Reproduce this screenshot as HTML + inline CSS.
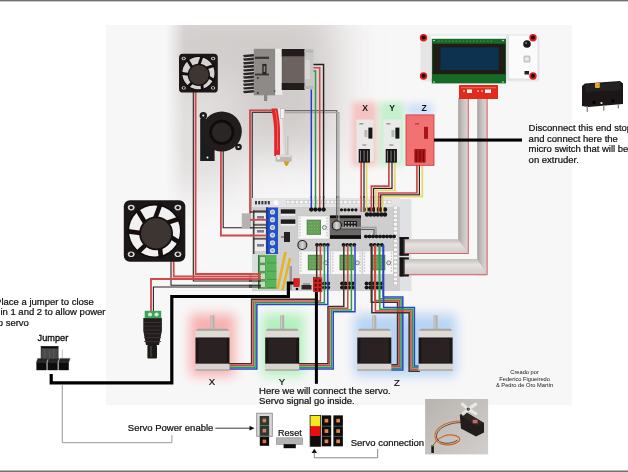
<!DOCTYPE html>
<html><head><meta charset="utf-8">
<style>
html,body{margin:0;padding:0;background:#fff;width:628px;height:472px;overflow:hidden}
svg{display:block;will-change:transform}
text{font-family:"Liberation Sans",sans-serif}
</style></head><body>
<svg width="628" height="472" viewBox="0 0 628 472">
<defs>
  <filter id="soft" x="0" y="0" width="100%" height="100%" filterUnits="userSpaceOnUse"><feGaussianBlur stdDeviation="0.35"/></filter>
  <filter id="blur20" x="-50%" y="-50%" width="200%" height="200%"><feGaussianBlur stdDeviation="20"/></filter>
  <filter id="blur6" x="-50%" y="-50%" width="200%" height="200%"><feGaussianBlur stdDeviation="6"/></filter>
  <filter id="blur3" x="-50%" y="-50%" width="200%" height="200%"><feGaussianBlur stdDeviation="3"/></filter>
  <filter id="blur1" x="-50%" y="-50%" width="200%" height="200%"><feGaussianBlur stdDeviation="0.7"/></filter>
  <linearGradient id="ribV" x1="0" x2="1" y1="0" y2="0">
    <stop offset="0" stop-color="#a8a2a0"/><stop offset="0.55" stop-color="#cec8c6"/><stop offset="1" stop-color="#dad4d2"/>
  </linearGradient>
  <linearGradient id="ribH" x1="0" x2="0" y1="0" y2="1">
    <stop offset="0" stop-color="#c2bcba"/><stop offset="0.35" stop-color="#e6e2e0"/><stop offset="1" stop-color="#d0cac8"/>
  </linearGradient>
  <linearGradient id="servoBg" x1="0" x2="1" y1="0" y2="1">
    <stop offset="0" stop-color="#b8b4b0"/><stop offset="1" stop-color="#d2cecb"/>
  </linearGradient>
  <linearGradient id="motGrad" x1="0" x2="1" y1="0" y2="0">
    <stop offset="0" stop-color="#1a1616"/><stop offset="0.5" stop-color="#332d2b"/><stop offset="1" stop-color="#1a1616"/>
  </linearGradient>
  <linearGradient id="capGrad" x1="0" x2="1" y1="0" y2="0">
    <stop offset="0" stop-color="#9a9896"/><stop offset="0.5" stop-color="#d8d6d4"/><stop offset="1" stop-color="#9a9896"/>
  </linearGradient>
  <clipPath id="panelclip"><rect x="106" y="25" width="466" height="380"/></clipPath>
</defs>

<g filter="url(#soft)">
<rect x="0" y="0" width="628" height="1" fill="#727272" />
<rect x="0" y="1" width="628" height="1" fill="#c8c8c8" />
<rect x="0" y="470" width="628" height="1" fill="#b4b4b4" />
<rect x="0" y="471" width="628" height="1" fill="#727272" />
<rect x="106" y="25" width="466" height="380" fill="#f8f7f7" />
<defs>
<linearGradient id="shmG" gradientUnits="userSpaceOnUse" x1="166" y1="0" x2="184" y2="0"><stop offset="0" stop-color="#000"/><stop offset="1" stop-color="#fff"/></linearGradient>
<mask id="shm" maskUnits="userSpaceOnUse" x="0" y="0" width="628" height="472"><rect x="106" y="25" width="466" height="380" fill="url(#shmG)"/></mask>
<radialGradient id="shR" gradientUnits="userSpaceOnUse" cx="205" cy="25" r="165" gradientTransform="translate(205 25) scale(1 1.15) translate(-205 -25)">
<stop offset="0" stop-color="#cfcbca" stop-opacity="1"/><stop offset="0.4" stop-color="#d2cecd" stop-opacity="0.8"/><stop offset="0.75" stop-color="#dcd8d8" stop-opacity="0.3"/><stop offset="1" stop-color="#e8e4e4" stop-opacity="0"/></radialGradient>
</defs>
<g clip-path="url(#panelclip)"><g mask="url(#shm)"><rect x="152" y="5" width="185" height="150" fill="#d0cccb" filter="url(#blur20)"/><rect x="150" y="80" width="90" height="110" fill="#e2dfdf" filter="url(#blur20)"/></g></g>
<g filter="url(#blur3)">
<rect x="352" y="102" width="24.5" height="64" fill="#f5c3c3" />
<rect x="379.5" y="102" width="24.5" height="64" fill="#c4f0cc" />
<rect x="407" y="103" width="26" height="14" fill="#d0e2f8" />
</g>
<g filter="url(#blur6)">
<rect x="190" y="314" width="45" height="62" fill="#f8b0b0" />
<rect x="262" y="314" width="42" height="62" fill="#b0f0bc" />
<rect x="354" y="314" width="102" height="62" fill="#b8d4f4" />
</g>
<path d="M193.3,90 L193.3,281 L262,281" fill="none" stroke="#262222" stroke-width="1.1" stroke-linejoin="miter" />
<path d="M195.6,90 L195.6,274 L262,274" fill="none" stroke="#d04848" stroke-width="1.8" stroke-linejoin="miter" />
<path d="M171,258 L171,285.3 L262,285.3" fill="none" stroke="#262222" stroke-width="1.1" stroke-linejoin="miter" />
<path d="M173.7,258 L173.7,276.5 L262,276.5" fill="none" stroke="#d04848" stroke-width="1.8" stroke-linejoin="miter" />
<path d="M153.4,312 L153.4,287 L262,287" fill="none" stroke="#262222" stroke-width="1.1" stroke-linejoin="miter" />
<path d="M151,312 L151,279 L262,279" fill="none" stroke="#d04848" stroke-width="1.8" stroke-linejoin="miter" />
<path d="M223.2,150 L223.2,227.8 L268,227.8" fill="none" stroke="#262222" stroke-width="1.1" stroke-linejoin="miter" />
<path d="M220.9,150 L220.9,235.5 L268,235.5" fill="none" stroke="#d04848" stroke-width="1.8" stroke-linejoin="miter" />
<path d="M252.2,112.3 L252.2,212 L268,212" fill="none" stroke="#262222" stroke-width="1.1" stroke-linejoin="miter" />
<path d="M250,110.3 L250,219.8 L268,219.8" fill="none" stroke="#d04848" stroke-width="1.8" stroke-linejoin="miter" />
<path d="M249.2,110.3 L273,110.3" fill="none" stroke="#d04848" stroke-width="1.8" stroke-linejoin="miter" />
<path d="M252.2,112.3 L273,112.3" fill="none" stroke="#262222" stroke-width="1.1" stroke-linejoin="miter" />
<rect x="241.8" y="213.3" width="9.5" height="15.2" fill="#b4b2b2" />
<path d="M283,110.6 L336.8,110.6 L336.8,232" fill="none" stroke="#6e6a6a" stroke-width="1.2" stroke-linejoin="miter" />
<path d="M283,112.6 L338.9,112.6 L338.9,232" fill="none" stroke="#aaa6a4" stroke-width="1.3" stroke-linejoin="miter" />
<path d="M306,64.5 L323.6,64.5 L323.6,210" fill="none" stroke="#262222" stroke-width="1.4" stroke-linejoin="miter" />
<path d="M306,67.8 L319.7,67.8 L319.7,210" fill="none" stroke="#d04848" stroke-width="1.5" stroke-linejoin="miter" />
<path d="M306,71 L315.5,71 L315.5,210" fill="none" stroke="#2f9a40" stroke-width="1.5" stroke-linejoin="miter" />
<path d="M306,73.5 L311.3,73.5 L311.3,210" fill="none" stroke="#2a3ac8" stroke-width="1.5" stroke-linejoin="miter" />
<path d="M361.2,160 L361.2,209" fill="none" stroke="#d04848" stroke-width="1.7" stroke-linejoin="miter" />
<path d="M364,160 L364,209" fill="none" stroke="#262222" stroke-width="1.2" stroke-linejoin="miter" />
<path d="M366.6,160 L366.6,209" fill="none" stroke="#e8d870" stroke-width="1.8" stroke-linejoin="miter" />
<path d="M388.9,160 L388.9,186.2 L371.4,186.2 L371.4,209" fill="none" stroke="#d04848" stroke-width="1.7" stroke-linejoin="miter" />
<path d="M392,160 L392,188.4 L373.6,188.4 L373.6,209" fill="none" stroke="#262222" stroke-width="1.2" stroke-linejoin="miter" />
<path d="M394.8,160 L394.8,190.4 L375.9,190.4 L375.9,209" fill="none" stroke="#e8d870" stroke-width="1.8" stroke-linejoin="miter" />
<path d="M416.9,160 L416.9,193 L378.7,193 L378.7,209" fill="none" stroke="#d04848" stroke-width="1.7" stroke-linejoin="miter" />
<path d="M419.4,160 L419.4,194.8 L380.7,194.8 L380.7,209" fill="none" stroke="#262222" stroke-width="1.2" stroke-linejoin="miter" />
<path d="M422.3,160 L422.3,196.6 L382.6,196.6 L382.6,209" fill="none" stroke="#e8d870" stroke-width="1.8" stroke-linejoin="miter" />
<rect x="179" y="53.8" width="38.8" height="38.8" rx="3.88" fill="#1c1818"/>
<ellipse cx="183.7" cy="58.5" rx="2.1" ry="1.7" fill="#d8d8d8"/><circle cx="183.7" cy="58.5" r="1.1" fill="#1c1818"/>
<ellipse cx="213.1" cy="58.5" rx="2.1" ry="1.7" fill="#d8d8d8"/><circle cx="213.1" cy="58.5" r="1.1" fill="#1c1818"/>
<ellipse cx="183.7" cy="87.9" rx="2.1" ry="1.7" fill="#d8d8d8"/><circle cx="183.7" cy="87.9" r="1.1" fill="#1c1818"/>
<ellipse cx="213.1" cy="87.9" rx="2.1" ry="1.7" fill="#d8d8d8"/><circle cx="213.1" cy="87.9" r="1.1" fill="#1c1818"/>
<circle cx="198.4" cy="73.19999999999999" r="17.1" fill="#0e0c0c"/>
<circle cx="198.4" cy="73.19999999999999" r="16.1" fill="#d6d2d2"/>
<line x1="205.9" y1="75.2" x2="214.5" y2="80.8" stroke="#141010" stroke-width="2.9"/>
<line x1="201.5" y1="80.3" x2="202.5" y2="90.6" stroke="#141010" stroke-width="2.9"/>
<line x1="194.8" y1="80.1" x2="187.4" y2="87.2" stroke="#141010" stroke-width="2.9"/>
<line x1="190.8" y1="74.6" x2="180.6" y2="73.3" stroke="#141010" stroke-width="2.9"/>
<line x1="192.5" y1="68.1" x2="187.2" y2="59.3" stroke="#141010" stroke-width="2.9"/>
<line x1="198.7" y1="65.4" x2="202.2" y2="55.8" stroke="#141010" stroke-width="2.9"/>
<line x1="204.6" y1="68.6" x2="214.4" y2="65.3" stroke="#141010" stroke-width="2.9"/>
<circle cx="198.8" cy="74.8" r="10.5" fill="#3c3432" stroke="#141010" stroke-width="1.2"/>
<rect x="123.8" y="200.2" width="61.5" height="61.5" rx="6.15" fill="#1c1818"/>
<ellipse cx="131.2" cy="207.6" rx="3.4" ry="2.8" fill="#d8d8d8"/><circle cx="131.2" cy="207.6" r="1.7" fill="#1c1818"/>
<ellipse cx="177.9" cy="207.6" rx="3.4" ry="2.8" fill="#d8d8d8"/><circle cx="177.9" cy="207.6" r="1.7" fill="#1c1818"/>
<ellipse cx="131.2" cy="254.3" rx="3.4" ry="2.8" fill="#d8d8d8"/><circle cx="131.2" cy="254.3" r="1.7" fill="#1c1818"/>
<ellipse cx="177.9" cy="254.3" rx="3.4" ry="2.8" fill="#d8d8d8"/><circle cx="177.9" cy="254.3" r="1.7" fill="#1c1818"/>
<circle cx="154.55" cy="230.95" r="27.1" fill="#0e0c0c"/>
<circle cx="154.55" cy="230.95" r="25.5" fill="#f2f0f0"/>
<line x1="166.4" y1="234.1" x2="180.1" y2="243.0" stroke="#141010" stroke-width="4.6"/>
<line x1="159.5" y1="242.2" x2="161.0" y2="258.5" stroke="#141010" stroke-width="4.6"/>
<line x1="148.8" y1="241.8" x2="137.1" y2="253.2" stroke="#141010" stroke-width="4.6"/>
<line x1="142.5" y1="233.2" x2="126.3" y2="231.1" stroke="#141010" stroke-width="4.6"/>
<line x1="145.2" y1="222.9" x2="136.8" y2="209.0" stroke="#141010" stroke-width="4.6"/>
<line x1="155.0" y1="218.7" x2="160.7" y2="203.3" stroke="#141010" stroke-width="4.6"/>
<line x1="164.4" y1="223.6" x2="180.0" y2="218.5" stroke="#141010" stroke-width="4.6"/>
<circle cx="156.1" cy="233.4" r="16.0" fill="#3c3432" stroke="#141010" stroke-width="1.8"/>
<circle cx="203.3" cy="115.8" r="3.7" fill="#1e1a1a"/><circle cx="203.3" cy="115.6" r="1.1" fill="#e4e4e4"/>
<circle cx="238.5" cy="147" r="3.3" fill="#1e1a1a"/><circle cx="238.5" cy="147" r="1.1" fill="#e4e4e4"/>
<path d="M200.2,119 L214.6,119 L214.6,161 L200.2,161 Z" fill="#1f1a1a"/>
<circle cx="221.8" cy="131.5" r="20" fill="#231d1d"/>
<circle cx="221.8" cy="132.3" r="11.2" fill="#2c2525" stroke="#0e0b0b" stroke-width="2.6"/>
<circle cx="207.5" cy="157.5" r="1" fill="#fff"/>
<path d="M243,55.0 L254,54.0 L254,56.6 L244,57.2 Z" fill="#2a2626"/>
<path d="M243,58.6 L254,57.6 L254,60.2 L244,60.8 Z" fill="#2a2626"/>
<path d="M243,62.2 L254,61.2 L254,63.8 L244,64.4 Z" fill="#2a2626"/>
<path d="M243,65.8 L254,64.8 L254,67.4 L244,68.0 Z" fill="#2a2626"/>
<path d="M243,69.4 L254,68.4 L254,71.0 L244,71.6 Z" fill="#2a2626"/>
<path d="M243,73.0 L254,72.0 L254,74.6 L244,75.2 Z" fill="#2a2626"/>
<path d="M243,76.6 L254,75.6 L254,78.2 L244,78.8 Z" fill="#2a2626"/>
<path d="M243,80.2 L254,79.2 L254,81.8 L244,82.4 Z" fill="#2a2626"/>
<path d="M243,83.8 L254,82.8 L254,85.4 L244,86.0 Z" fill="#2a2626"/>
<path d="M243,87.4 L254,86.4 L254,89.0 L244,89.6 Z" fill="#2a2626"/>
<path d="M243,91.0 L254,90.0 L254,92.6 L244,93.2 Z" fill="#2a2626"/>
<rect x="253.8" y="48.8" width="21.5" height="46.5" fill="#8e8a88" />
<rect x="255" y="56.7" width="14" height="2.2" fill="#3a3636" />
<rect x="255" y="73.6" width="14" height="1.8" fill="#3a3636" />
<rect x="262.3" y="63.9" width="4.2" height="10.3" fill="#2a2626" />
<rect x="263.6" y="66" width="1.6" height="6" fill="#8a8684" />
<circle cx="257.8" cy="78" r="1" fill="#333"/><circle cx="257.8" cy="93" r="1" fill="#333"/><circle cx="275" cy="91" r="1.2" fill="#555"/>
<rect x="275.3" y="48.8" width="7" height="46" fill="#ecebea" />
<rect x="281.8" y="49" width="23" height="41" fill="#5e5652" />
<rect x="281.8" y="49" width="23" height="7.5" fill="#231c1a" />
<rect x="281.8" y="83" width="23" height="7" fill="#231c1a" />
<rect x="282.5" y="56.5" width="21.5" height="26.5" fill="#6c6460" />
<rect x="304.5" y="49.5" width="9" height="40" fill="#c9c7c5" />
<rect x="304.5" y="49.5" width="9" height="3" fill="#b8b6b4" />
<rect x="304.5" y="86" width="9" height="3" fill="#b8b6b4" />
<rect x="305" y="60" width="5" height="19" fill="#d8d6d4" />
<rect x="264" y="95" width="3.2" height="6" fill="#8a8684" />
<path d="M277.5,108.5 L280.8,108.5 C282.3,118 282.8,124 282.8,132 L282.8,155 L280,155 L280,132 C280,124 279,118 277.5,108.5Z" fill="#eee6e6"/>
<path d="M271.5,108.5 L277.5,108.5 C279,118 280,124 280,132 L280,156 L274.2,156 L274.2,132 C274.2,124 273,118 271.5,108.5 Z" fill="#e3262a"/>
<path d="M275.5,110 C277,118 277.6,124 277.6,132 L277.6,150" fill="none" stroke="#f26a6a" stroke-width="0.9"/>
<rect x="280.6" y="108.5" width="4" height="10" fill="#f2f0ee" stroke="#aaa" stroke-width="0.5"/>
<rect x="285" y="136" width="3.6" height="20" fill="#c4c0be" />
<rect x="285.6" y="136" width="1.2" height="20" fill="#dedad8" />
<rect x="275.5" y="154.8" width="16.2" height="7" fill="#bcb8b6" rx="1.5"/>
<rect x="276" y="155" width="15" height="2" fill="#dcdad8" />
<circle cx="278.5" cy="158" r="1.5" fill="#f0f0f0"/>
<path d="M283.5,161.3 L289.5,161.3 L288,165 L286.5,166.2 L285,165 Z" fill="#d6a21c"/>
<rect x="398" y="199" width="13.5" height="92" fill="#dfe1e4" rx="1"/>
<rect x="252" y="198" width="148" height="93" fill="#cecece" />
<rect x="252" y="198" width="148" height="9" fill="#e4e4e4" />
<rect x="286.5" y="200.6" width="3.4" height="3.2" fill="#f6f6f6" stroke="#b8b8b8" stroke-width="0.4"/>
<rect x="290.9" y="200.6" width="3.4" height="3.2" fill="#f6f6f6" stroke="#b8b8b8" stroke-width="0.4"/>
<rect x="295.3" y="200.6" width="3.4" height="3.2" fill="#f6f6f6" stroke="#b8b8b8" stroke-width="0.4"/>
<rect x="299.7" y="200.6" width="3.4" height="3.2" fill="#f6f6f6" stroke="#b8b8b8" stroke-width="0.4"/>
<rect x="304.1" y="200.6" width="3.4" height="3.2" fill="#f6f6f6" stroke="#b8b8b8" stroke-width="0.4"/>
<rect x="308.5" y="200.6" width="3.4" height="3.2" fill="#f6f6f6" stroke="#b8b8b8" stroke-width="0.4"/>
<rect x="312.9" y="200.6" width="3.4" height="3.2" fill="#f6f6f6" stroke="#b8b8b8" stroke-width="0.4"/>
<rect x="317.3" y="200.6" width="3.4" height="3.2" fill="#f6f6f6" stroke="#b8b8b8" stroke-width="0.4"/>
<rect x="321.7" y="200.6" width="3.4" height="3.2" fill="#f6f6f6" stroke="#b8b8b8" stroke-width="0.4"/>
<rect x="326.1" y="200.6" width="3.4" height="3.2" fill="#f6f6f6" stroke="#b8b8b8" stroke-width="0.4"/>
<rect x="330.5" y="200.6" width="3.4" height="3.2" fill="#f6f6f6" stroke="#b8b8b8" stroke-width="0.4"/>
<rect x="334.9" y="200.6" width="3.4" height="3.2" fill="#f6f6f6" stroke="#b8b8b8" stroke-width="0.4"/>
<rect x="339.3" y="200.6" width="3.4" height="3.2" fill="#f6f6f6" stroke="#b8b8b8" stroke-width="0.4"/>
<rect x="343.7" y="200.6" width="3.4" height="3.2" fill="#f6f6f6" stroke="#b8b8b8" stroke-width="0.4"/>
<rect x="348.1" y="200.6" width="3.4" height="3.2" fill="#f6f6f6" stroke="#b8b8b8" stroke-width="0.4"/>
<rect x="352.5" y="200.6" width="3.4" height="3.2" fill="#f6f6f6" stroke="#b8b8b8" stroke-width="0.4"/>
<rect x="356.9" y="200.6" width="3.4" height="3.2" fill="#f6f6f6" stroke="#b8b8b8" stroke-width="0.4"/>
<rect x="361.3" y="200.6" width="3.4" height="3.2" fill="#f6f6f6" stroke="#b8b8b8" stroke-width="0.4"/>
<rect x="365.7" y="200.6" width="3.4" height="3.2" fill="#f6f6f6" stroke="#b8b8b8" stroke-width="0.4"/>
<rect x="370.1" y="200.6" width="3.4" height="3.2" fill="#f6f6f6" stroke="#b8b8b8" stroke-width="0.4"/>
<rect x="374.5" y="200.6" width="3.4" height="3.2" fill="#f6f6f6" stroke="#b8b8b8" stroke-width="0.4"/>
<rect x="378.9" y="200.6" width="3.4" height="3.2" fill="#f6f6f6" stroke="#b8b8b8" stroke-width="0.4"/>
<rect x="383.3" y="200.6" width="3.4" height="3.2" fill="#f6f6f6" stroke="#b8b8b8" stroke-width="0.4"/>
<rect x="387.7" y="200.6" width="3.4" height="3.2" fill="#f6f6f6" stroke="#b8b8b8" stroke-width="0.4"/>
<rect x="393.8" y="206.0" width="3.4" height="3.2" fill="#f6f6f6" stroke="#b8b8b8" stroke-width="0.4"/>
<rect x="393.8" y="210.2" width="3.4" height="3.2" fill="#f6f6f6" stroke="#b8b8b8" stroke-width="0.4"/>
<rect x="393.8" y="214.4" width="3.4" height="3.2" fill="#f6f6f6" stroke="#b8b8b8" stroke-width="0.4"/>
<rect x="393.8" y="218.6" width="3.4" height="3.2" fill="#f6f6f6" stroke="#b8b8b8" stroke-width="0.4"/>
<rect x="393.8" y="222.8" width="3.4" height="3.2" fill="#f6f6f6" stroke="#b8b8b8" stroke-width="0.4"/>
<rect x="393.8" y="227.0" width="3.4" height="3.2" fill="#f6f6f6" stroke="#b8b8b8" stroke-width="0.4"/>
<rect x="393.8" y="231.2" width="3.4" height="3.2" fill="#f6f6f6" stroke="#b8b8b8" stroke-width="0.4"/>
<rect x="393.8" y="235.4" width="3.4" height="3.2" fill="#f6f6f6" stroke="#b8b8b8" stroke-width="0.4"/>
<rect x="393.8" y="239.6" width="3.4" height="3.2" fill="#f6f6f6" stroke="#b8b8b8" stroke-width="0.4"/>
<rect x="393.8" y="243.8" width="3.4" height="3.2" fill="#f6f6f6" stroke="#b8b8b8" stroke-width="0.4"/>
<rect x="393.8" y="248.0" width="3.4" height="3.2" fill="#f6f6f6" stroke="#b8b8b8" stroke-width="0.4"/>
<rect x="393.8" y="252.2" width="3.4" height="3.2" fill="#f6f6f6" stroke="#b8b8b8" stroke-width="0.4"/>
<rect x="393.8" y="256.4" width="3.4" height="3.2" fill="#f6f6f6" stroke="#b8b8b8" stroke-width="0.4"/>
<rect x="393.8" y="260.6" width="3.4" height="3.2" fill="#f6f6f6" stroke="#b8b8b8" stroke-width="0.4"/>
<rect x="393.8" y="264.8" width="3.4" height="3.2" fill="#f6f6f6" stroke="#b8b8b8" stroke-width="0.4"/>
<rect x="393.8" y="269.0" width="3.4" height="3.2" fill="#f6f6f6" stroke="#b8b8b8" stroke-width="0.4"/>
<rect x="393.8" y="273.2" width="3.4" height="3.2" fill="#f6f6f6" stroke="#b8b8b8" stroke-width="0.4"/>
<rect x="393.8" y="277.4" width="3.4" height="3.2" fill="#f6f6f6" stroke="#b8b8b8" stroke-width="0.4"/>
<rect x="393.8" y="281.6" width="3.4" height="3.2" fill="#f6f6f6" stroke="#b8b8b8" stroke-width="0.4"/>
<rect x="254.5" y="212" width="11" height="11" fill="#ececec" />
<rect x="254.5" y="226" width="11" height="11" fill="#ececec" />
<rect x="254.5" y="240" width="11" height="11" fill="#ececec" />
<rect x="253.2" y="210.5" width="1.2" height="44" fill="#2a2626" />
<rect x="253.2" y="210.5" width="13" height="1.1" fill="#2a2626" />
<rect x="253.2" y="224.4" width="13" height="1.1" fill="#2a2626" />
<rect x="253.2" y="238.3" width="13" height="1.1" fill="#2a2626" />
<rect x="255.0" y="201" width="2" height="3.4" fill="#3a3a3a" />
<rect x="258.2" y="201" width="2" height="3.4" fill="#3a3a3a" />
<rect x="261.4" y="201" width="2" height="3.4" fill="#3a3a3a" />
<rect x="264.6" y="201" width="2" height="3.4" fill="#3a3a3a" />
<rect x="267.8" y="201" width="2" height="3.4" fill="#3a3a3a" />
<rect x="257" y="216" width="7" height="2.6" fill="#7a7a8a" />
<rect x="257" y="230" width="7" height="2.6" fill="#7a7a8a" />
<rect x="257" y="244" width="7" height="2.6" fill="#7a7a8a" />
<circle cx="276" cy="202.5" r="2.6" fill="#fafafa"/>
<rect x="266" y="207.5" width="12" height="46.5" fill="#2451c8" />
<rect x="266" y="207.5" width="2" height="46.5" fill="#1a3ea0" />
<circle cx="272.5" cy="212.0" r="2.6" fill="#d8dce8"/><circle cx="272.5" cy="212.0" r="1.3" fill="#9aa4bc"/>
<circle cx="272.5" cy="219.7" r="2.6" fill="#d8dce8"/><circle cx="272.5" cy="219.7" r="1.3" fill="#9aa4bc"/>
<circle cx="272.5" cy="227.4" r="2.6" fill="#d8dce8"/><circle cx="272.5" cy="227.4" r="1.3" fill="#9aa4bc"/>
<circle cx="272.5" cy="235.1" r="2.6" fill="#d8dce8"/><circle cx="272.5" cy="235.1" r="1.3" fill="#9aa4bc"/>
<circle cx="272.5" cy="242.8" r="2.6" fill="#d8dce8"/><circle cx="272.5" cy="242.8" r="1.3" fill="#9aa4bc"/>
<circle cx="272.5" cy="250.5" r="2.6" fill="#d8dce8"/><circle cx="272.5" cy="250.5" r="1.3" fill="#9aa4bc"/>
<rect x="280.8" y="209.3" width="14.5" height="4.5" fill="#1e1c1c" />
<rect x="280.8" y="213.8" width="14.5" height="1.8" fill="#f0f0f0" />
<rect x="280.8" y="219.4" width="14.5" height="4.5" fill="#1e1c1c" />
<rect x="280.8" y="223.9" width="14.5" height="1.8" fill="#f0f0f0" />
<rect x="284" y="232" width="6" height="10" fill="#222" />
<rect x="281" y="236" width="3" height="2" fill="#888" />
<rect x="252" y="254" width="6.5" height="36" fill="#dadedb" />
<rect x="258" y="255" width="18.5" height="34" fill="#5ab45a" />
<rect x="258" y="255" width="1.2" height="34" fill="#2e6e32" />
<rect x="259.8" y="256.6" width="5.8" height="6.4" fill="#c4dcc0" stroke="#3c7e3e" stroke-width="0.6"/>
<rect x="267" y="262.6" width="9.5" height="0.7" fill="#3e8e42" />
<rect x="259.8" y="264.8" width="5.8" height="6.4" fill="#c4dcc0" stroke="#3c7e3e" stroke-width="0.6"/>
<rect x="267" y="270.8" width="9.5" height="0.7" fill="#3e8e42" />
<rect x="259.8" y="273.0" width="5.8" height="6.4" fill="#c4dcc0" stroke="#3c7e3e" stroke-width="0.6"/>
<rect x="267" y="279.0" width="9.5" height="0.7" fill="#3e8e42" />
<rect x="259.8" y="281.20000000000005" width="5.8" height="6.4" fill="#c4dcc0" stroke="#3c7e3e" stroke-width="0.6"/>
<rect x="267" y="287.20000000000005" width="9.5" height="0.7" fill="#3e8e42" />
<path d="M277.5,289 L285.5,252" fill="none" stroke="#e6b41e" stroke-width="2.6" stroke-linejoin="miter" />
<path d="M282.5,290.5 L290,258" fill="none" stroke="#e6b41e" stroke-width="2.4" stroke-linejoin="miter" />
<rect x="289.5" y="266" width="2.5" height="24" fill="#9a9a9a" />
<rect x="298" y="216" width="31" height="23" fill="#f7f7f7" stroke="#bdbdbd" stroke-width="0.5"/>
<rect x="306.68" y="219.68" width="14.26" height="15.180000000000001" fill="#4f8a44" />
<rect x="307.61" y="220.6" width="12.4" height="13.34" fill="#66a058" />
<rect x="299.2" y="217.5" width="1.4" height="1.6" fill="#c8c8c8" />
<rect x="326.4" y="217.5" width="1.4" height="1.6" fill="#c8c8c8" />
<rect x="299.2" y="220.4" width="1.4" height="1.6" fill="#c8c8c8" />
<rect x="326.4" y="220.4" width="1.4" height="1.6" fill="#c8c8c8" />
<rect x="299.2" y="223.2" width="1.4" height="1.6" fill="#c8c8c8" />
<rect x="326.4" y="223.2" width="1.4" height="1.6" fill="#c8c8c8" />
<rect x="299.2" y="226.1" width="1.4" height="1.6" fill="#c8c8c8" />
<rect x="326.4" y="226.1" width="1.4" height="1.6" fill="#c8c8c8" />
<rect x="299.2" y="228.9" width="1.4" height="1.6" fill="#c8c8c8" />
<rect x="326.4" y="228.9" width="1.4" height="1.6" fill="#c8c8c8" />
<rect x="299.2" y="231.8" width="1.4" height="1.6" fill="#c8c8c8" />
<rect x="326.4" y="231.8" width="1.4" height="1.6" fill="#c8c8c8" />
<rect x="299.2" y="234.6" width="1.4" height="1.6" fill="#c8c8c8" />
<rect x="326.4" y="234.6" width="1.4" height="1.6" fill="#c8c8c8" />
<rect x="308.5" y="221.8" width="1" height="1" fill="#8cc07c" />
<rect x="308.5" y="225.0" width="1" height="1" fill="#8cc07c" />
<rect x="308.5" y="228.2" width="1" height="1" fill="#8cc07c" />
<rect x="308.5" y="231.4" width="1" height="1" fill="#8cc07c" />
<rect x="311.3" y="221.8" width="1" height="1" fill="#8cc07c" />
<rect x="311.3" y="225.0" width="1" height="1" fill="#8cc07c" />
<rect x="311.3" y="228.2" width="1" height="1" fill="#8cc07c" />
<rect x="311.3" y="231.4" width="1" height="1" fill="#8cc07c" />
<rect x="314.1" y="221.8" width="1" height="1" fill="#8cc07c" />
<rect x="314.1" y="225.0" width="1" height="1" fill="#8cc07c" />
<rect x="314.1" y="228.2" width="1" height="1" fill="#8cc07c" />
<rect x="314.1" y="231.4" width="1" height="1" fill="#8cc07c" />
<rect x="316.9" y="221.8" width="1" height="1" fill="#8cc07c" />
<rect x="316.9" y="225.0" width="1" height="1" fill="#8cc07c" />
<rect x="316.9" y="228.2" width="1" height="1" fill="#8cc07c" />
<rect x="316.9" y="231.4" width="1" height="1" fill="#8cc07c" />
<circle cx="324.4" cy="227.5" r="2" fill="#e8e8e8" stroke="#555" stroke-width="0.7"/>
<rect x="299" y="251" width="31.5" height="23.5" fill="#f7f7f7" stroke="#bdbdbd" stroke-width="0.5"/>
<rect x="307.82" y="254.76" width="14.49" height="15.510000000000002" fill="#4f8a44" />
<rect x="308.765" y="255.7" width="12.600000000000001" height="13.629999999999999" fill="#66a058" />
<rect x="300.2" y="252.5" width="1.4" height="1.6" fill="#c8c8c8" />
<rect x="327.9" y="252.5" width="1.4" height="1.6" fill="#c8c8c8" />
<rect x="300.2" y="255.4" width="1.4" height="1.6" fill="#c8c8c8" />
<rect x="327.9" y="255.4" width="1.4" height="1.6" fill="#c8c8c8" />
<rect x="300.2" y="258.4" width="1.4" height="1.6" fill="#c8c8c8" />
<rect x="327.9" y="258.4" width="1.4" height="1.6" fill="#c8c8c8" />
<rect x="300.2" y="261.3" width="1.4" height="1.6" fill="#c8c8c8" />
<rect x="327.9" y="261.3" width="1.4" height="1.6" fill="#c8c8c8" />
<rect x="300.2" y="264.2" width="1.4" height="1.6" fill="#c8c8c8" />
<rect x="327.9" y="264.2" width="1.4" height="1.6" fill="#c8c8c8" />
<rect x="300.2" y="267.1" width="1.4" height="1.6" fill="#c8c8c8" />
<rect x="327.9" y="267.1" width="1.4" height="1.6" fill="#c8c8c8" />
<rect x="300.2" y="270.1" width="1.4" height="1.6" fill="#c8c8c8" />
<rect x="327.9" y="270.1" width="1.4" height="1.6" fill="#c8c8c8" />
<rect x="309.7" y="256.9" width="1" height="1" fill="#8cc07c" />
<rect x="309.7" y="260.2" width="1" height="1" fill="#8cc07c" />
<rect x="309.7" y="263.5" width="1" height="1" fill="#8cc07c" />
<rect x="309.7" y="266.7" width="1" height="1" fill="#8cc07c" />
<rect x="312.5" y="256.9" width="1" height="1" fill="#8cc07c" />
<rect x="312.5" y="260.2" width="1" height="1" fill="#8cc07c" />
<rect x="312.5" y="263.5" width="1" height="1" fill="#8cc07c" />
<rect x="312.5" y="266.7" width="1" height="1" fill="#8cc07c" />
<rect x="315.4" y="256.9" width="1" height="1" fill="#8cc07c" />
<rect x="315.4" y="260.2" width="1" height="1" fill="#8cc07c" />
<rect x="315.4" y="263.5" width="1" height="1" fill="#8cc07c" />
<rect x="315.4" y="266.7" width="1" height="1" fill="#8cc07c" />
<rect x="318.2" y="256.9" width="1" height="1" fill="#8cc07c" />
<rect x="318.2" y="260.2" width="1" height="1" fill="#8cc07c" />
<rect x="318.2" y="263.5" width="1" height="1" fill="#8cc07c" />
<rect x="318.2" y="266.7" width="1" height="1" fill="#8cc07c" />
<circle cx="325.8" cy="262.8" r="2" fill="#e8e8e8" stroke="#555" stroke-width="0.7"/>
<rect x="330.8" y="251" width="31.2" height="23.5" fill="#f7f7f7" stroke="#bdbdbd" stroke-width="0.5"/>
<rect x="339.536" y="254.76" width="14.352" height="15.510000000000002" fill="#4f8a44" />
<rect x="340.47200000000004" y="255.7" width="12.48" height="13.629999999999999" fill="#66a058" />
<rect x="332.0" y="252.5" width="1.4" height="1.6" fill="#c8c8c8" />
<rect x="359.4" y="252.5" width="1.4" height="1.6" fill="#c8c8c8" />
<rect x="332.0" y="255.4" width="1.4" height="1.6" fill="#c8c8c8" />
<rect x="359.4" y="255.4" width="1.4" height="1.6" fill="#c8c8c8" />
<rect x="332.0" y="258.4" width="1.4" height="1.6" fill="#c8c8c8" />
<rect x="359.4" y="258.4" width="1.4" height="1.6" fill="#c8c8c8" />
<rect x="332.0" y="261.3" width="1.4" height="1.6" fill="#c8c8c8" />
<rect x="359.4" y="261.3" width="1.4" height="1.6" fill="#c8c8c8" />
<rect x="332.0" y="264.2" width="1.4" height="1.6" fill="#c8c8c8" />
<rect x="359.4" y="264.2" width="1.4" height="1.6" fill="#c8c8c8" />
<rect x="332.0" y="267.1" width="1.4" height="1.6" fill="#c8c8c8" />
<rect x="359.4" y="267.1" width="1.4" height="1.6" fill="#c8c8c8" />
<rect x="332.0" y="270.1" width="1.4" height="1.6" fill="#c8c8c8" />
<rect x="359.4" y="270.1" width="1.4" height="1.6" fill="#c8c8c8" />
<rect x="341.4" y="256.9" width="1" height="1" fill="#8cc07c" />
<rect x="341.4" y="260.2" width="1" height="1" fill="#8cc07c" />
<rect x="341.4" y="263.5" width="1" height="1" fill="#8cc07c" />
<rect x="341.4" y="266.7" width="1" height="1" fill="#8cc07c" />
<rect x="344.2" y="256.9" width="1" height="1" fill="#8cc07c" />
<rect x="344.2" y="260.2" width="1" height="1" fill="#8cc07c" />
<rect x="344.2" y="263.5" width="1" height="1" fill="#8cc07c" />
<rect x="344.2" y="266.7" width="1" height="1" fill="#8cc07c" />
<rect x="347.0" y="256.9" width="1" height="1" fill="#8cc07c" />
<rect x="347.0" y="260.2" width="1" height="1" fill="#8cc07c" />
<rect x="347.0" y="263.5" width="1" height="1" fill="#8cc07c" />
<rect x="347.0" y="266.7" width="1" height="1" fill="#8cc07c" />
<rect x="349.8" y="256.9" width="1" height="1" fill="#8cc07c" />
<rect x="349.8" y="260.2" width="1" height="1" fill="#8cc07c" />
<rect x="349.8" y="263.5" width="1" height="1" fill="#8cc07c" />
<rect x="349.8" y="266.7" width="1" height="1" fill="#8cc07c" />
<circle cx="357.3" cy="262.8" r="2" fill="#e8e8e8" stroke="#555" stroke-width="0.7"/>
<rect x="362.5" y="251" width="30.8" height="23.5" fill="#f7f7f7" stroke="#bdbdbd" stroke-width="0.5"/>
<rect x="371.124" y="254.76" width="14.168000000000001" height="15.510000000000002" fill="#4f8a44" />
<rect x="372.048" y="255.7" width="12.32" height="13.629999999999999" fill="#66a058" />
<rect x="363.7" y="252.5" width="1.4" height="1.6" fill="#c8c8c8" />
<rect x="390.7" y="252.5" width="1.4" height="1.6" fill="#c8c8c8" />
<rect x="363.7" y="255.4" width="1.4" height="1.6" fill="#c8c8c8" />
<rect x="390.7" y="255.4" width="1.4" height="1.6" fill="#c8c8c8" />
<rect x="363.7" y="258.4" width="1.4" height="1.6" fill="#c8c8c8" />
<rect x="390.7" y="258.4" width="1.4" height="1.6" fill="#c8c8c8" />
<rect x="363.7" y="261.3" width="1.4" height="1.6" fill="#c8c8c8" />
<rect x="390.7" y="261.3" width="1.4" height="1.6" fill="#c8c8c8" />
<rect x="363.7" y="264.2" width="1.4" height="1.6" fill="#c8c8c8" />
<rect x="390.7" y="264.2" width="1.4" height="1.6" fill="#c8c8c8" />
<rect x="363.7" y="267.1" width="1.4" height="1.6" fill="#c8c8c8" />
<rect x="390.7" y="267.1" width="1.4" height="1.6" fill="#c8c8c8" />
<rect x="363.7" y="270.1" width="1.4" height="1.6" fill="#c8c8c8" />
<rect x="390.7" y="270.1" width="1.4" height="1.6" fill="#c8c8c8" />
<rect x="373.0" y="256.9" width="1" height="1" fill="#8cc07c" />
<rect x="373.0" y="260.2" width="1" height="1" fill="#8cc07c" />
<rect x="373.0" y="263.5" width="1" height="1" fill="#8cc07c" />
<rect x="373.0" y="266.7" width="1" height="1" fill="#8cc07c" />
<rect x="375.7" y="256.9" width="1" height="1" fill="#8cc07c" />
<rect x="375.7" y="260.2" width="1" height="1" fill="#8cc07c" />
<rect x="375.7" y="263.5" width="1" height="1" fill="#8cc07c" />
<rect x="375.7" y="266.7" width="1" height="1" fill="#8cc07c" />
<rect x="378.5" y="256.9" width="1" height="1" fill="#8cc07c" />
<rect x="378.5" y="260.2" width="1" height="1" fill="#8cc07c" />
<rect x="378.5" y="263.5" width="1" height="1" fill="#8cc07c" />
<rect x="378.5" y="266.7" width="1" height="1" fill="#8cc07c" />
<rect x="381.3" y="256.9" width="1" height="1" fill="#8cc07c" />
<rect x="381.3" y="260.2" width="1" height="1" fill="#8cc07c" />
<rect x="381.3" y="263.5" width="1" height="1" fill="#8cc07c" />
<rect x="381.3" y="266.7" width="1" height="1" fill="#8cc07c" />
<circle cx="388.7" cy="262.8" r="2" fill="#e8e8e8" stroke="#555" stroke-width="0.7"/>
<rect x="330" y="215.5" width="31" height="23.3" fill="#6a6767" />
<rect x="330" y="215.5" width="31" height="2.6" fill="#121010" />
<rect x="330" y="235.2" width="31" height="3.6" fill="#121010" />
<rect x="344" y="221" width="13" height="7" fill="#1e1c1c" />
<rect x="345" y="222" width="1.6" height="1.6" fill="#bbb" />
<rect x="345" y="225.4" width="1.6" height="1.6" fill="#bbb" />
<rect x="348" y="222" width="1.6" height="1.6" fill="#bbb" />
<rect x="348" y="225.4" width="1.6" height="1.6" fill="#bbb" />
<rect x="351" y="222" width="1.6" height="1.6" fill="#bbb" />
<rect x="351" y="225.4" width="1.6" height="1.6" fill="#bbb" />
<rect x="354" y="222" width="1.6" height="1.6" fill="#bbb" />
<rect x="354" y="225.4" width="1.6" height="1.6" fill="#bbb" />
<circle cx="302.3" cy="245" r="5" fill="#1e1c1c"/><circle cx="302.3" cy="245" r="4" fill="url(#capGrad)"/>
<circle cx="336.8" cy="225.5" r="5" fill="#1e1c1c"/><circle cx="336.8" cy="225.5" r="4" fill="url(#capGrad)"/>
<circle cx="341.5" cy="209.8" r="1.6" fill="#161414"/>
<circle cx="345.1" cy="209.8" r="1.6" fill="#161414"/>
<circle cx="348.7" cy="209.8" r="1.6" fill="#161414"/>
<circle cx="352.3" cy="209.8" r="1.6" fill="#161414"/>
<circle cx="355.9" cy="209.8" r="1.6" fill="#161414"/>
<circle cx="311.3" cy="209.5" r="2" fill="#161414"/>
<circle cx="315.4" cy="209.5" r="2" fill="#161414"/>
<circle cx="319.5" cy="209.5" r="2" fill="#161414"/>
<circle cx="323.6" cy="209.5" r="2" fill="#161414"/>
<circle cx="367.0" cy="209.5" r="2.2" fill="#161414"/>
<circle cx="370.6" cy="209.5" r="2.2" fill="#161414"/>
<circle cx="374.2" cy="209.5" r="2.2" fill="#161414"/>
<circle cx="377.8" cy="209.5" r="2.2" fill="#161414"/>
<circle cx="381.4" cy="209.5" r="2.2" fill="#161414"/>
<circle cx="385.0" cy="209.5" r="2.2" fill="#161414"/>
<circle cx="367.0" cy="214.5" r="2.2" fill="#161414"/>
<circle cx="370.6" cy="214.5" r="2.2" fill="#161414"/>
<circle cx="374.2" cy="214.5" r="2.2" fill="#161414"/>
<circle cx="377.8" cy="214.5" r="2.2" fill="#161414"/>
<circle cx="381.4" cy="214.5" r="2.2" fill="#161414"/>
<circle cx="385.0" cy="214.5" r="2.2" fill="#161414"/>
<circle cx="366.0" cy="236.5" r="1.8" fill="#161414"/>
<circle cx="369.5" cy="236.5" r="1.8" fill="#161414"/>
<circle cx="373.0" cy="236.5" r="1.8" fill="#161414"/>
<circle cx="376.5" cy="236.5" r="1.8" fill="#161414"/>
<circle cx="380.0" cy="236.5" r="1.8" fill="#161414"/>
<circle cx="383.5" cy="236.5" r="1.8" fill="#161414"/>
<circle cx="387.0" cy="236.5" r="1.8" fill="#161414"/>
<circle cx="390.5" cy="236.5" r="1.8" fill="#161414"/>
<circle cx="394.0" cy="236.5" r="1.8" fill="#161414"/>
<circle cx="317.0" cy="244.8" r="1.9" fill="#161414"/>
<circle cx="320.6" cy="244.8" r="1.9" fill="#161414"/>
<circle cx="324.2" cy="244.8" r="1.9" fill="#161414"/>
<circle cx="327.8" cy="244.8" r="1.9" fill="#161414"/>
<circle cx="343.5" cy="244.8" r="1.9" fill="#161414"/>
<circle cx="347.1" cy="244.8" r="1.9" fill="#161414"/>
<circle cx="350.7" cy="244.8" r="1.9" fill="#161414"/>
<circle cx="354.3" cy="244.8" r="1.9" fill="#161414"/>
<circle cx="371.0" cy="244.8" r="1.9" fill="#161414"/>
<circle cx="374.6" cy="244.8" r="1.9" fill="#161414"/>
<circle cx="378.2" cy="244.8" r="1.9" fill="#161414"/>
<circle cx="381.8" cy="244.8" r="1.9" fill="#161414"/>
<circle cx="342.0" cy="283.5" r="1.9" fill="#161414"/>
<circle cx="345.6" cy="283.5" r="1.9" fill="#161414"/>
<circle cx="349.2" cy="283.5" r="1.9" fill="#161414"/>
<circle cx="352.8" cy="283.5" r="1.9" fill="#161414"/>
<circle cx="342.0" cy="287.5" r="1.9" fill="#161414"/>
<circle cx="345.6" cy="287.5" r="1.9" fill="#161414"/>
<circle cx="349.2" cy="287.5" r="1.9" fill="#161414"/>
<circle cx="352.8" cy="287.5" r="1.9" fill="#161414"/>
<circle cx="366.5" cy="283.5" r="1.9" fill="#161414"/>
<circle cx="370.1" cy="283.5" r="1.9" fill="#161414"/>
<circle cx="373.7" cy="283.5" r="1.9" fill="#161414"/>
<circle cx="377.3" cy="283.5" r="1.9" fill="#161414"/>
<circle cx="380.9" cy="283.5" r="1.9" fill="#161414"/>
<circle cx="366.5" cy="287.5" r="1.9" fill="#161414"/>
<circle cx="370.1" cy="287.5" r="1.9" fill="#161414"/>
<circle cx="373.7" cy="287.5" r="1.9" fill="#161414"/>
<circle cx="377.3" cy="287.5" r="1.9" fill="#161414"/>
<circle cx="380.9" cy="287.5" r="1.9" fill="#161414"/>
<circle cx="321.0" cy="283.5" r="1.9" fill="#161414"/>
<circle cx="324.6" cy="283.5" r="1.9" fill="#161414"/>
<circle cx="328.2" cy="283.5" r="1.9" fill="#161414"/>
<circle cx="321.0" cy="287.5" r="1.9" fill="#161414"/>
<circle cx="324.6" cy="287.5" r="1.9" fill="#161414"/>
<circle cx="328.2" cy="287.5" r="1.9" fill="#161414"/>
<path d="M250,212 L266.5,212" fill="none" stroke="#262222" stroke-width="1.1" stroke-linejoin="miter" />
<path d="M250,219.8 L266.5,219.8" fill="none" stroke="#d04848" stroke-width="1.8" stroke-linejoin="miter" />
<path d="M250,227.8 L266.5,227.8" fill="none" stroke="#262222" stroke-width="1.1" stroke-linejoin="miter" />
<path d="M250,235.5 L266.5,235.5" fill="none" stroke="#d04848" stroke-width="1.8" stroke-linejoin="miter" />
<path d="M249,274 L261,274" fill="none" stroke="#d04848" stroke-width="1.8" stroke-linejoin="miter" />
<path d="M249,276.5 L261,276.5" fill="none" stroke="#d04848" stroke-width="1.8" stroke-linejoin="miter" />
<path d="M249,279 L261,279" fill="none" stroke="#d04848" stroke-width="1.8" stroke-linejoin="miter" />
<path d="M249,281 L261,281" fill="none" stroke="#262222" stroke-width="1.1" stroke-linejoin="miter" />
<path d="M249,285.3 L261,285.3" fill="none" stroke="#262222" stroke-width="1.1" stroke-linejoin="miter" />
<path d="M249,287 L261,287" fill="none" stroke="#262222" stroke-width="1.1" stroke-linejoin="miter" />
<path d="M311.3,196 L311.3,209" fill="none" stroke="#2a3ac8" stroke-width="1.5" stroke-linejoin="miter" />
<path d="M315.5,196 L315.5,209" fill="none" stroke="#2f9a40" stroke-width="1.5" stroke-linejoin="miter" />
<path d="M319.7,196 L319.7,209" fill="none" stroke="#d04848" stroke-width="1.5" stroke-linejoin="miter" />
<path d="M323.6,196 L323.6,209" fill="none" stroke="#262222" stroke-width="1.4" stroke-linejoin="miter" />
<circle cx="311.3" cy="209.5" r="2" fill="#161414"/>
<circle cx="315.4" cy="209.5" r="2" fill="#161414"/>
<circle cx="319.5" cy="209.5" r="2" fill="#161414"/>
<circle cx="323.6" cy="209.5" r="2" fill="#161414"/>
<path d="M336.8,196 L336.8,229.5 L374,229.5 L374,236" fill="none" stroke="#5a5656" stroke-width="1.2" stroke-linejoin="miter" />
<path d="M338.9,196 L338.9,227.5 L376,227.5 L376,236" fill="none" stroke="#a09c9a" stroke-width="1.4" stroke-linejoin="miter" />
<circle cx="336.8" cy="225.5" r="5" fill="#1e1c1c"/><circle cx="336.8" cy="225.5" r="4" fill="url(#capGrad)"/>
<circle cx="366.0" cy="236.5" r="1.8" fill="#161414"/>
<circle cx="369.5" cy="236.5" r="1.8" fill="#161414"/>
<circle cx="373.0" cy="236.5" r="1.8" fill="#161414"/>
<circle cx="376.5" cy="236.5" r="1.8" fill="#161414"/>
<circle cx="380.0" cy="236.5" r="1.8" fill="#161414"/>
<circle cx="383.5" cy="236.5" r="1.8" fill="#161414"/>
<circle cx="387.0" cy="236.5" r="1.8" fill="#161414"/>
<circle cx="390.5" cy="236.5" r="1.8" fill="#161414"/>
<circle cx="394.0" cy="236.5" r="1.8" fill="#161414"/>
<path d="M361.2,196 L361.2,212" fill="none" stroke="#d04848" stroke-width="1.7" stroke-linejoin="miter" />
<path d="M364,196 L364,212" fill="none" stroke="#262222" stroke-width="1.2" stroke-linejoin="miter" />
<path d="M366.6,196 L366.6,212" fill="none" stroke="#e8d870" stroke-width="1.8" stroke-linejoin="miter" />
<path d="M371.4,196 L371.4,212" fill="none" stroke="#d04848" stroke-width="1.7" stroke-linejoin="miter" />
<path d="M373.6,196 L373.6,212" fill="none" stroke="#262222" stroke-width="1.2" stroke-linejoin="miter" />
<path d="M375.9,196 L375.9,212" fill="none" stroke="#e8d870" stroke-width="1.8" stroke-linejoin="miter" />
<path d="M378.7,196 L378.7,212" fill="none" stroke="#d04848" stroke-width="1.7" stroke-linejoin="miter" />
<path d="M380.7,196 L380.7,212" fill="none" stroke="#262222" stroke-width="1.2" stroke-linejoin="miter" />
<path d="M382.6,196 L382.6,212" fill="none" stroke="#e8d870" stroke-width="1.8" stroke-linejoin="miter" />
<rect x="313.3" y="277.5" width="8" height="13" fill="#d42424" />
<rect x="313.3" y="277.5" width="8" height="13" fill="none" stroke="#7a1010" stroke-width="0.6"/>
<rect x="293.4" y="278.6" width="6.2" height="6.6" fill="#d42424" />
<rect x="301.5" y="285" width="10" height="4.5" fill="#2a2828" />
<rect x="303" y="283" width="7" height="2" fill="#9a9a9a" />
<rect x="399.7" y="237" width="9" height="18.5" fill="#1e1a1a" />
<rect x="401.5" y="239" width="5" height="14.5" fill="#3a3434" />
<rect x="399.7" y="257.6" width="9" height="18.7" fill="#1e1a1a" />
<rect x="401.5" y="259.6" width="5" height="14.7" fill="#3a3434" />
<path d="M316.7,245.0 L316.7,299.2 L251.6,299.2 L251.6,363.8 L228.0,363.8" fill="none" stroke="#3c302c" stroke-width="1.5" stroke-linejoin="miter" />
<path d="M320.4,245.0 L320.4,300.95 L253.35,300.95 L253.35,365.55 L228.0,365.55" fill="none" stroke="#d4483a" stroke-width="1.5" stroke-linejoin="miter" />
<path d="M324.4,245.0 L324.4,302.7 L255.1,302.7 L255.1,367.3 L228.0,367.3" fill="none" stroke="#2c9a52" stroke-width="1.5" stroke-linejoin="miter" />
<path d="M327.8,245.0 L327.8,304.45 L256.85,304.45 L256.85,369.05 L228.0,369.05" fill="none" stroke="#2c46c4" stroke-width="1.5" stroke-linejoin="miter" />
<path d="M343.8,245.0 L343.8,306.6 L328.0,306.6 L328.0,363.8 L298.0,363.8" fill="none" stroke="#3c302c" stroke-width="1.5" stroke-linejoin="miter" />
<path d="M347.8,245.0 L347.8,308.35 L329.75,308.35 L329.75,365.55 L298.0,365.55" fill="none" stroke="#d4483a" stroke-width="1.5" stroke-linejoin="miter" />
<path d="M351.4,245.0 L351.4,310.1 L331.5,310.1 L331.5,367.3 L298.0,367.3" fill="none" stroke="#2c9a52" stroke-width="1.5" stroke-linejoin="miter" />
<path d="M355.0,245.0 L355.0,311.85 L333.25,311.85 L333.25,369.05 L298.0,369.05" fill="none" stroke="#2c46c4" stroke-width="1.5" stroke-linejoin="miter" />
<path d="M383,245.0 L383,297.0 L402.8,297.0 L402.8,370.0 L390.0,370.0" fill="none" stroke="#2c46c4" stroke-width="1.5" stroke-linejoin="miter" />
<path d="M379.2,245.0 L379.2,298.75 L401.05,298.75 L401.05,368.25 L390.0,368.25" fill="none" stroke="#2c9a52" stroke-width="1.5" stroke-linejoin="miter" />
<path d="M374.8,245.0 L374.8,300.5 L399.3,300.5 L399.3,366.5 L390.0,366.5" fill="none" stroke="#d4483a" stroke-width="1.5" stroke-linejoin="miter" />
<path d="M371.3,245.0 L371.3,302.25 L397.55,302.25 L397.55,364.75 L390.0,364.75" fill="none" stroke="#3c302c" stroke-width="1.5" stroke-linejoin="miter" />
<path d="M383.6,245.0 L383.6,307.5 L414.4,307.5 L414.4,366.0 L420.0,366.0" fill="none" stroke="#2c46c4" stroke-width="1.5" stroke-linejoin="miter" />
<path d="M379.8,245.0 L379.8,309.25 L412.65,309.25 L412.65,367.75 L420.0,367.75" fill="none" stroke="#2c9a52" stroke-width="1.5" stroke-linejoin="miter" />
<path d="M375.4,245.0 L375.4,311.0 L410.9,311.0 L410.9,369.5 L420.0,369.5" fill="none" stroke="#d4483a" stroke-width="1.5" stroke-linejoin="miter" />
<path d="M371.9,245.0 L371.9,312.75 L409.15,312.75 L409.15,371.25 L420.0,371.25" fill="none" stroke="#3c302c" stroke-width="1.5" stroke-linejoin="miter" />
<path d="M51.2,373.9 L51.2,382.9 L171.8,382.9 L171.8,296.5 L288.4,296.5 L288.4,283 L294,283" fill="none" stroke="#050505" stroke-width="3.2" stroke-linejoin="miter" />
<path d="M316.4,291 L316.4,383.8" fill="none" stroke="#050505" stroke-width="3.0" stroke-linejoin="miter" />
<rect x="313.3" y="278.2" width="8.9" height="13.9" fill="#d42424" />
<rect x="314.6" y="279.5" width="2.2" height="2.6" fill="#5a0a0a" />
<rect x="318.7" y="279.5" width="2.2" height="2.6" fill="#5a0a0a" />
<rect x="314.6" y="283.8" width="2.2" height="2.6" fill="#5a0a0a" />
<rect x="318.7" y="283.8" width="2.2" height="2.6" fill="#5a0a0a" />
<rect x="314.6" y="288.1" width="2.2" height="2.6" fill="#5a0a0a" />
<rect x="318.7" y="288.1" width="2.2" height="2.6" fill="#5a0a0a" />
<rect x="293.5" y="278.2" width="6" height="8.8" fill="#d42424" />
<circle cx="297" cy="289" r="1.3" fill="#111"/>
<rect x="458.2" y="98" width="10.6" height="156" fill="url(#ribV)" />
<path d="M404.5,239.2 L458.2,239.2 L468.8,254 L404.5,254 Z" fill="url(#ribH)"/>
<path d="M468.3,98 L468.3,253.5 L405,253.5" fill="none" stroke="#d8606a" stroke-width="1.0" stroke-linejoin="miter" />
<rect x="477.2" y="98" width="10.4" height="177.2" fill="url(#ribV)" />
<path d="M404.5,259 L477.2,259 L487.6,275.2 L404.5,275.2 Z" fill="url(#ribH)"/>
<path d="M487.1,98 L487.1,274.7 L405,274.7" fill="none" stroke="#d8606a" stroke-width="1.0" stroke-linejoin="miter" />
<rect x="399.7" y="237" width="4" height="18.5" fill="#161212" />
<rect x="399.7" y="237" width="9.1" height="1.8" fill="#161212" />
<rect x="399.7" y="253.7" width="9.1" height="1.8" fill="#161212" />
<rect x="403.7" y="238.8" width="1" height="14.9" fill="#5a5454" />
<rect x="399.7" y="257.6" width="4" height="18.7" fill="#161212" />
<rect x="399.7" y="257.6" width="9.1" height="1.8" fill="#161212" />
<rect x="399.7" y="274.5" width="9.1" height="1.8" fill="#161212" />
<rect x="403.7" y="259.40000000000003" width="1" height="15.1" fill="#5a5454" />
<rect x="421.5" y="36" width="117" height="44" fill="#000" rx="2" opacity="0.06" transform="translate(1,1.5)"/>
<rect x="421" y="35" width="117" height="44" fill="#fbfbfb" rx="2" stroke="#d4d4d4" stroke-width="0.6"/>
<rect x="421" y="35" width="10" height="44" fill="#e6e6e6" />
<rect x="506" y="35" width="3" height="44" fill="#e2e2e2" />
<rect x="431.8" y="38.8" width="74.2" height="44.6" fill="#176a26" />
<rect x="432.7" y="43.8" width="72.5" height="30.3" fill="#201a16" />
<rect x="440.4" y="47.3" width="58.5" height="22.7" fill="#10304f" />
<rect x="438.0" y="40.6" width="1.6" height="1.2" fill="#4a8a4a" />
<rect x="441.5" y="40.6" width="1.6" height="1.2" fill="#4a8a4a" />
<rect x="445.0" y="40.6" width="1.6" height="1.2" fill="#4a8a4a" />
<rect x="448.5" y="40.6" width="1.6" height="1.2" fill="#4a8a4a" />
<rect x="452.0" y="40.6" width="1.6" height="1.2" fill="#4a8a4a" />
<rect x="455.5" y="40.6" width="1.6" height="1.2" fill="#4a8a4a" />
<rect x="459.0" y="40.6" width="1.6" height="1.2" fill="#4a8a4a" />
<rect x="462.5" y="40.6" width="1.6" height="1.2" fill="#4a8a4a" />
<rect x="466.0" y="40.6" width="1.6" height="1.2" fill="#4a8a4a" />
<rect x="469.5" y="40.6" width="1.6" height="1.2" fill="#4a8a4a" />
<rect x="473.0" y="40.6" width="1.6" height="1.2" fill="#4a8a4a" />
<rect x="476.5" y="40.6" width="1.6" height="1.2" fill="#4a8a4a" />
<rect x="480.0" y="40.6" width="1.6" height="1.2" fill="#4a8a4a" />
<rect x="483.5" y="40.6" width="1.6" height="1.2" fill="#4a8a4a" />
<rect x="487.0" y="40.6" width="1.6" height="1.2" fill="#4a8a4a" />
<rect x="490.5" y="40.6" width="1.6" height="1.2" fill="#4a8a4a" />
<circle cx="434" cy="82" r="0.8" fill="#e8e8e8"/><circle cx="434" cy="40.5" r="0.8" fill="#e8e8e8"/><circle cx="503" cy="40.5" r="0.8" fill="#e8e8e8"/><circle cx="503" cy="82" r="0.8" fill="#e8e8e8"/>
<circle cx="423.5" cy="37.8" r="3.7" fill="#e01c1c"/><circle cx="423.5" cy="37.5" r="2" fill="#120808"/>
<circle cx="533" cy="37.8" r="3.7" fill="#e01c1c"/><circle cx="533" cy="37.5" r="2" fill="#120808"/>
<circle cx="423.5" cy="76" r="3.7" fill="#e01c1c"/><circle cx="423.5" cy="75.7" r="2" fill="#120808"/>
<circle cx="533" cy="76" r="3.7" fill="#e01c1c"/><circle cx="533" cy="75.7" r="2" fill="#120808"/>
<circle cx="527" cy="44" r="3.8" fill="#1a1616"/><circle cx="526" cy="43" r="1.1" fill="#777"/>
<rect x="523.5" y="55.5" width="7" height="7" fill="#c4c4c4" rx="1.5"/>
<circle cx="527" cy="59" r="2.1" fill="#ececec"/>
<rect x="524.5" y="71" width="4.5" height="3.5" fill="#222" />
<rect x="459" y="85" width="39" height="14" fill="#e22a1e" />
<rect x="461" y="87" width="35" height="1.2" fill="#f06050" />
<rect x="467" y="89.5" width="5" height="3.5" fill="#fafafa" />
<rect x="485" y="89.5" width="6" height="3.5" fill="#fafafa" />
<circle cx="464" cy="91" r="0.9" fill="#f4c0a0"/><circle cx="478" cy="91" r="0.9" fill="#f4c0a0"/><circle cx="482" cy="91" r="0.9" fill="#f4c0a0"/>
<rect x="356.4" y="119.6" width="17.2" height="42" fill="#ebe7e7" rx="1"/>
<rect x="368.4" y="127.6" width="4" height="11" fill="#141212" />
<rect x="358.7" y="149" width="11.2" height="13.6" fill="#141212" />
<rect x="360.0" y="150.5" width="0.9" height="11" fill="#8a8a8a" />
<rect x="363.6" y="150.5" width="0.9" height="11" fill="#8a8a8a" />
<rect x="367.2" y="150.5" width="0.9" height="11" fill="#8a8a8a" />
<rect x="359.4" y="123" width="4" height="1.5" fill="#9a9a9a" />
<rect x="364.4" y="130" width="3" height="7" fill="#b8b8b8" />
<rect x="362.4" y="144" width="4" height="2" fill="#b0b0b0" />
<rect x="383.4" y="119.6" width="17.2" height="42" fill="#e9ebe9" rx="1"/>
<rect x="395.4" y="127.6" width="4" height="11" fill="#141212" />
<rect x="385.7" y="149" width="11.2" height="13.6" fill="#141212" />
<rect x="387.0" y="150.5" width="0.9" height="11" fill="#8a8a8a" />
<rect x="390.6" y="150.5" width="0.9" height="11" fill="#8a8a8a" />
<rect x="394.2" y="150.5" width="0.9" height="11" fill="#8a8a8a" />
<rect x="386.4" y="123" width="4" height="1.5" fill="#9a9a9a" />
<rect x="391.4" y="130" width="3" height="7" fill="#b8b8b8" />
<rect x="389.4" y="144" width="4" height="2" fill="#b0b0b0" />
<rect x="406" y="114.9" width="28" height="50.4" fill="#f07272" stroke="#c83a3a" stroke-width="0.8"/>
<rect x="424" y="126.8" width="4" height="12" fill="#a81414" />
<rect x="414.4" y="149" width="11.2" height="13.6" fill="#a81414" />
<rect x="415.8" y="150.5" width="0.9" height="11" fill="#6a0808" />
<rect x="419.40000000000003" y="150.5" width="0.9" height="11" fill="#6a0808" />
<rect x="423.0" y="150.5" width="0.9" height="11" fill="#6a0808" />
<rect x="415" y="123" width="4" height="1.5" fill="#c04040" />
<text x="365" y="111" font-size="8.6" font-weight="bold" text-anchor="middle" fill="#141414">X</text>
<text x="392" y="111" font-size="8.6" font-weight="bold" text-anchor="middle" fill="#141414">Y</text>
<text x="424" y="111" font-size="8.6" font-weight="bold" text-anchor="middle" fill="#141414">Z</text>
<rect x="434" y="138.5" width="88" height="3.1" fill="#050505" />
<rect x="210.5" y="315.3" width="4" height="14" fill="#b4b0ac" />
<rect x="211.3" y="315.3" width="1.2" height="14" fill="#d0ccc8" />
<rect x="196.5" y="328.8" width="32" height="3" fill="#a8a4a0" rx="1.5"/>
<rect x="195.5" y="330.8" width="34" height="6.7" fill="#dedad6" />
<rect x="195.5" y="337.5" width="34" height="26.3" fill="#1d1716" />
<rect x="198.5" y="338.3" width="28" height="24.5" fill="#2a2220" />
<rect x="195.5" y="363.8" width="34" height="6.8" fill="#d8d4d0" />
<rect x="195.5" y="369.3" width="34" height="1.4" fill="#a8a4a0" />
<rect x="280.2" y="315.3" width="4" height="14" fill="#b4b0ac" />
<rect x="281.0" y="315.3" width="1.2" height="14" fill="#d0ccc8" />
<rect x="266.2" y="328.8" width="32" height="3" fill="#a8a4a0" rx="1.5"/>
<rect x="265.2" y="330.8" width="34" height="6.7" fill="#dedad6" />
<rect x="265.2" y="337.5" width="34" height="26.3" fill="#1d1716" />
<rect x="268.2" y="338.3" width="28" height="24.5" fill="#2a2220" />
<rect x="265.2" y="363.8" width="34" height="6.8" fill="#d8d4d0" />
<rect x="265.2" y="369.3" width="34" height="1.4" fill="#a8a4a0" />
<rect x="372.3" y="315.3" width="4" height="14" fill="#b4b0ac" />
<rect x="373.1" y="315.3" width="1.2" height="14" fill="#d0ccc8" />
<rect x="358.3" y="328.8" width="32" height="3" fill="#a8a4a0" rx="1.5"/>
<rect x="357.3" y="330.8" width="34" height="6.7" fill="#dedad6" />
<rect x="357.3" y="337.5" width="34" height="26.3" fill="#1d1716" />
<rect x="360.3" y="338.3" width="28" height="24.5" fill="#2a2220" />
<rect x="357.3" y="363.8" width="34" height="6.8" fill="#d8d4d0" />
<rect x="357.3" y="369.3" width="34" height="1.4" fill="#a8a4a0" />
<rect x="433.6" y="315.3" width="4" height="14" fill="#b4b0ac" />
<rect x="434.40000000000003" y="315.3" width="1.2" height="14" fill="#d0ccc8" />
<rect x="419.6" y="328.8" width="32" height="3" fill="#a8a4a0" rx="1.5"/>
<rect x="418.6" y="330.8" width="34" height="6.7" fill="#dedad6" />
<rect x="418.6" y="337.5" width="34" height="26.3" fill="#1d1716" />
<rect x="421.6" y="338.3" width="28" height="24.5" fill="#2a2220" />
<rect x="418.6" y="363.8" width="34" height="6.8" fill="#d8d4d0" />
<rect x="418.6" y="369.3" width="34" height="1.4" fill="#a8a4a0" />
<text x="212" y="385" font-size="9.5" text-anchor="middle" fill="#111" stroke="#111" stroke-width="0.22">X</text>
<text x="282" y="385" font-size="9.5" text-anchor="middle" fill="#111" stroke="#111" stroke-width="0.22">Y</text>
<text x="397" y="386" font-size="9.5" text-anchor="middle" fill="#111" stroke="#111" stroke-width="0.22">Z</text>
<path d="M582,86 L585,83.5 L620,81 L623,83.5 L623,104 L588,107 L582,106 Z" fill="#1b1919"/>
<path d="M585,84.5 L620,82 L621,90 L586,92 Z" fill="#242121"/>
<rect x="595" y="82.7" width="4.8" height="5.3" fill="#e8a828" rx="0.8"/>
<rect x="586.6" y="106" width="1.3" height="6" fill="#8a8886" />
<rect x="603.1" y="105" width="1.3" height="5.700000000000003" fill="#8a8886" />
<rect x="617.6999999999999" y="104" width="1.3" height="4.5" fill="#8a8886" />
<circle cx="594" cy="102.6" r="1.8" fill="#050505"/><circle cx="613" cy="101" r="1.8" fill="#050505"/><circle cx="601.5" cy="103" r="1.1" fill="#f0f0f0"/>
<path d="M143.3,318 L161.9,318 L161.9,331 L159,345 L146,345 L143.3,331 Z" fill="#231f1d"/>
<rect x="144" y="322.0" width="17" height="0.8" fill="#3e3836" />
<rect x="144" y="325.8" width="17" height="0.8" fill="#3e3836" />
<rect x="144" y="329.6" width="17" height="0.8" fill="#3e3836" />
<rect x="144" y="333.4" width="17" height="0.8" fill="#3e3836" />
<rect x="144" y="337.2" width="17" height="0.8" fill="#3e3836" />
<rect x="144" y="341.0" width="17" height="0.8" fill="#3e3836" />
<rect x="147.4" y="345" width="9.6" height="13.6" fill="#1e1a18" rx="1"/>
<rect x="150" y="346" width="2" height="11" fill="#3a3432" />
<rect x="144.7" y="310.8" width="16.5" height="7.4" fill="#3ea25a" />
<circle cx="150" cy="314.5" r="2.1" fill="#d0e8d8"/><circle cx="156.5" cy="314.5" r="2.1" fill="#d0e8d8"/>
<rect x="61.8" y="349.5" width="1" height="9.5" fill="#c4c4c4" />
<path d="M37.7,358.4 L47.9,358.4 L46.6,362.2 L36.4,362.2 Z" fill="#262424" stroke="#5a5a5a" stroke-width="0.5"/>
<rect x="36.4" y="362.2" width="10.2" height="8" fill="#0c0a0a" />
<path d="M48.8,358.4 L59.0,358.4 L57.7,362.2 L47.5,362.2 Z" fill="#262424" stroke="#5a5a5a" stroke-width="0.5"/>
<rect x="47.5" y="362.2" width="10.2" height="8" fill="#0c0a0a" />
<path d="M59.9,358.4 L70.1,358.4 L68.8,362.2 L58.6,362.2 Z" fill="#262424" stroke="#5a5a5a" stroke-width="0.5"/>
<rect x="58.6" y="362.2" width="10.2" height="8" fill="#0c0a0a" />
<rect x="41.1" y="346.6" width="17" height="12.4" fill="#4c4a4a" stroke="#1a1a1a" stroke-width="0.6"/>
<rect x="41.1" y="346.4" width="17" height="2" fill="#111" />
<rect x="44.5" y="349" width="0.7" height="9.5" fill="#626060" />
<rect x="49.0" y="349" width="0.7" height="9.5" fill="#626060" />
<rect x="53.5" y="349" width="0.7" height="9.5" fill="#626060" />
<text x="37.6" y="341.1" font-size="9.2" fill="#111" stroke="#111" stroke-width="0.35">Jumper</text>
<path d="M62.3,385 L62.3,442.7 L171.9,442.7 L171.9,435" fill="none" stroke="#8c8c8c" stroke-width="0.9" stroke-linejoin="miter" />
<text x="127.8" y="430.8" font-size="9.5" fill="#111" stroke="#111" stroke-width="0.22">Servo Power enable</text>
<path d="M215.3,428.2 L251,428.2" fill="none" stroke="#222" stroke-width="0.9" stroke-linejoin="miter" />
<path d="M254.5,428.2 L249.5,425.8 L249.5,430.6 Z" fill="#111"/>
<rect x="259.8" y="416" width="9.3" height="29.8" fill="#0a0a0a" />
<rect x="256.7" y="413.2" width="15.6" height="23.1" fill="#b8b8b8" fill-opacity="0.55" stroke="#8e8e8e" stroke-width="0.9"/>
<rect x="259.8" y="416" width="9.3" height="20" fill="#263026" fill-opacity="0.85"/>
<rect x="259.8" y="425.2" width="9.3" height="0.7" fill="#7a8a7a" />
<rect x="259.8" y="435.6" width="9.3" height="0.7" fill="#6a6a6a" />
<rect x="262.6" y="418.7" width="3.6" height="3.6" fill="#c88066" />
<rect x="262.6" y="428.9" width="3.6" height="3.6" fill="#c88066" />
<rect x="262.6" y="439.6" width="3.6" height="3.6" fill="#ea6a40" />
<text x="278" y="436" font-size="9.1" fill="#111" stroke="#111" stroke-width="0.22">Reset</text>
<rect x="276.3" y="437.8" width="26.4" height="6.6" fill="#b4b4b4" stroke="#8a8a8a" stroke-width="0.6"/>
<rect x="283.6" y="444.2" width="12.2" height="4" fill="#0a0a0a" />
<rect x="310.1" y="415.4" width="10.5" height="10.7" fill="#f6e81c" />
<rect x="310.1" y="426.1" width="10.5" height="9.9" fill="#ee1010" />
<rect x="310.1" y="436" width="10.5" height="10.3" fill="#0a0a0a" />
<rect x="310.1" y="415.4" width="10.5" height="30.9" fill="none" stroke="#222" stroke-width="0.8"/>
<rect x="321.7" y="415.4" width="9.5" height="30.9" fill="#0a0a0a" />
<rect x="321.7" y="425.8" width="9.5" height="0.7" fill="#6a7a8a" />
<rect x="321.7" y="435.9" width="9.5" height="0.7" fill="#6a7a8a" />
<rect x="324.6" y="418.8" width="3.7" height="3.7" fill="#e48248" />
<rect x="324.6" y="429.2" width="3.7" height="3.7" fill="#e48248" />
<rect x="324.6" y="439.5" width="3.7" height="3.7" fill="#e48248" />
<rect x="333.4" y="415.4" width="9.5" height="30.9" fill="#0a0a0a" />
<rect x="333.4" y="425.8" width="9.5" height="0.7" fill="#6a7a8a" />
<rect x="333.4" y="435.9" width="9.5" height="0.7" fill="#6a7a8a" />
<rect x="336.3" y="418.8" width="3.7" height="3.7" fill="#e48248" />
<rect x="336.3" y="429.2" width="3.7" height="3.7" fill="#e48248" />
<rect x="336.3" y="439.5" width="3.7" height="3.7" fill="#e48248" />
<path d="M314.3,448.8 L311.6,453 L317,453 Z" fill="#111"/>
<path d="M314.3,452.5 L314.3,457.8 L377.7,457.8 L377.7,449" fill="none" stroke="#7a7a7a" stroke-width="0.9" stroke-linejoin="miter" />
<text x="350.7" y="446" font-size="9.5" fill="#111" stroke="#111" stroke-width="0.22">Servo connection</text>
<rect x="425.1" y="399" width="63" height="55.4" fill="url(#servoBg)" />
<path d="M461,421 C446,421 434,428 435,437 C436,446 452,447 459,441 C463,437 452,433 444,436 C437,439 433,444 432.5,449" fill="none" stroke="#c8682a" stroke-width="1.1"/>
<path d="M461,422.5 C447,423 436,429 436.5,437 C437.5,444.5 451,445 457.5,440" fill="none" stroke="#5a2a14" stroke-width="0.8"/>
<rect x="431.3" y="446" width="2.6" height="7" fill="#1a1a1a" />
<rect x="431.3" y="445" width="2.6" height="1.6" fill="#3a8a3a" />
<path d="M459.8,415 L466,412.3 L484,423 L484,432.5 L476,436.5 L461,428.5 Z" fill="#241e1c"/>
<path d="M459.8,415 L466,412.3 L484,423 L477,426.5 Z" fill="#2e2624"/>
<rect x="472.7" y="419.8" width="4.9" height="3.5" fill="#c86a6a" />
<path d="M468.2,409.1 L462.6,404.3 M468.2,409.1 L475.6,404.2 M468.2,409.1 L463.2,413.8 M468.2,409.1 L475.8,413.6" stroke="#ebebeb" stroke-width="3.2" stroke-linecap="round" opacity="0.92"/>
<circle cx="468.2" cy="409.1" r="1.6" fill="#1a1a1a"/><circle cx="468.2" cy="409.1" r="0.7" fill="#ddd"/>
<text x="528.6" y="131.2" font-size="9.5" fill="#111" stroke="#111" stroke-width="0.22">Disconnect this end stop</text>
<text x="528.6" y="141.7" font-size="9.5" fill="#111" stroke="#111" stroke-width="0.22">and connect here the</text>
<text x="528.6" y="152.2" font-size="9.5" fill="#111" stroke="#111" stroke-width="0.22">micro switch that will be</text>
<text x="528.6" y="162.6" font-size="9.5" fill="#111" stroke="#111" stroke-width="0.22">on extruder.</text>
<text x="-4.9" y="304.9" font-size="9.5" fill="#111" stroke="#111" stroke-width="0.22">Place a jumper to close</text>
<text x="-4.9" y="315.4" font-size="9.5" fill="#111" stroke="#111" stroke-width="0.22">pin 1 and 2 to allow power</text>
<text x="-4.9" y="325.9" font-size="9.5" fill="#111" stroke="#111" stroke-width="0.22">to servo</text>
<text x="259.1" y="393.5" font-size="9.5" fill="#111" stroke="#111" stroke-width="0.22">Here we will connect the servo.</text>
<text x="259.1" y="404.2" font-size="9.5" fill="#111" stroke="#111" stroke-width="0.22">Servo signal go inside.</text>
<text x="524.6" y="374.3" font-size="5.7" text-anchor="middle" fill="#161616">Creado por</text>
<text x="524.6" y="380.6" font-size="5.7" text-anchor="middle" fill="#161616">Federico Figueiredo</text>
<text x="524.6" y="386.9" font-size="5.7" text-anchor="middle" fill="#161616">&amp; Pedro de Oro Martín</text>
</g>
</svg>
</body></html>
